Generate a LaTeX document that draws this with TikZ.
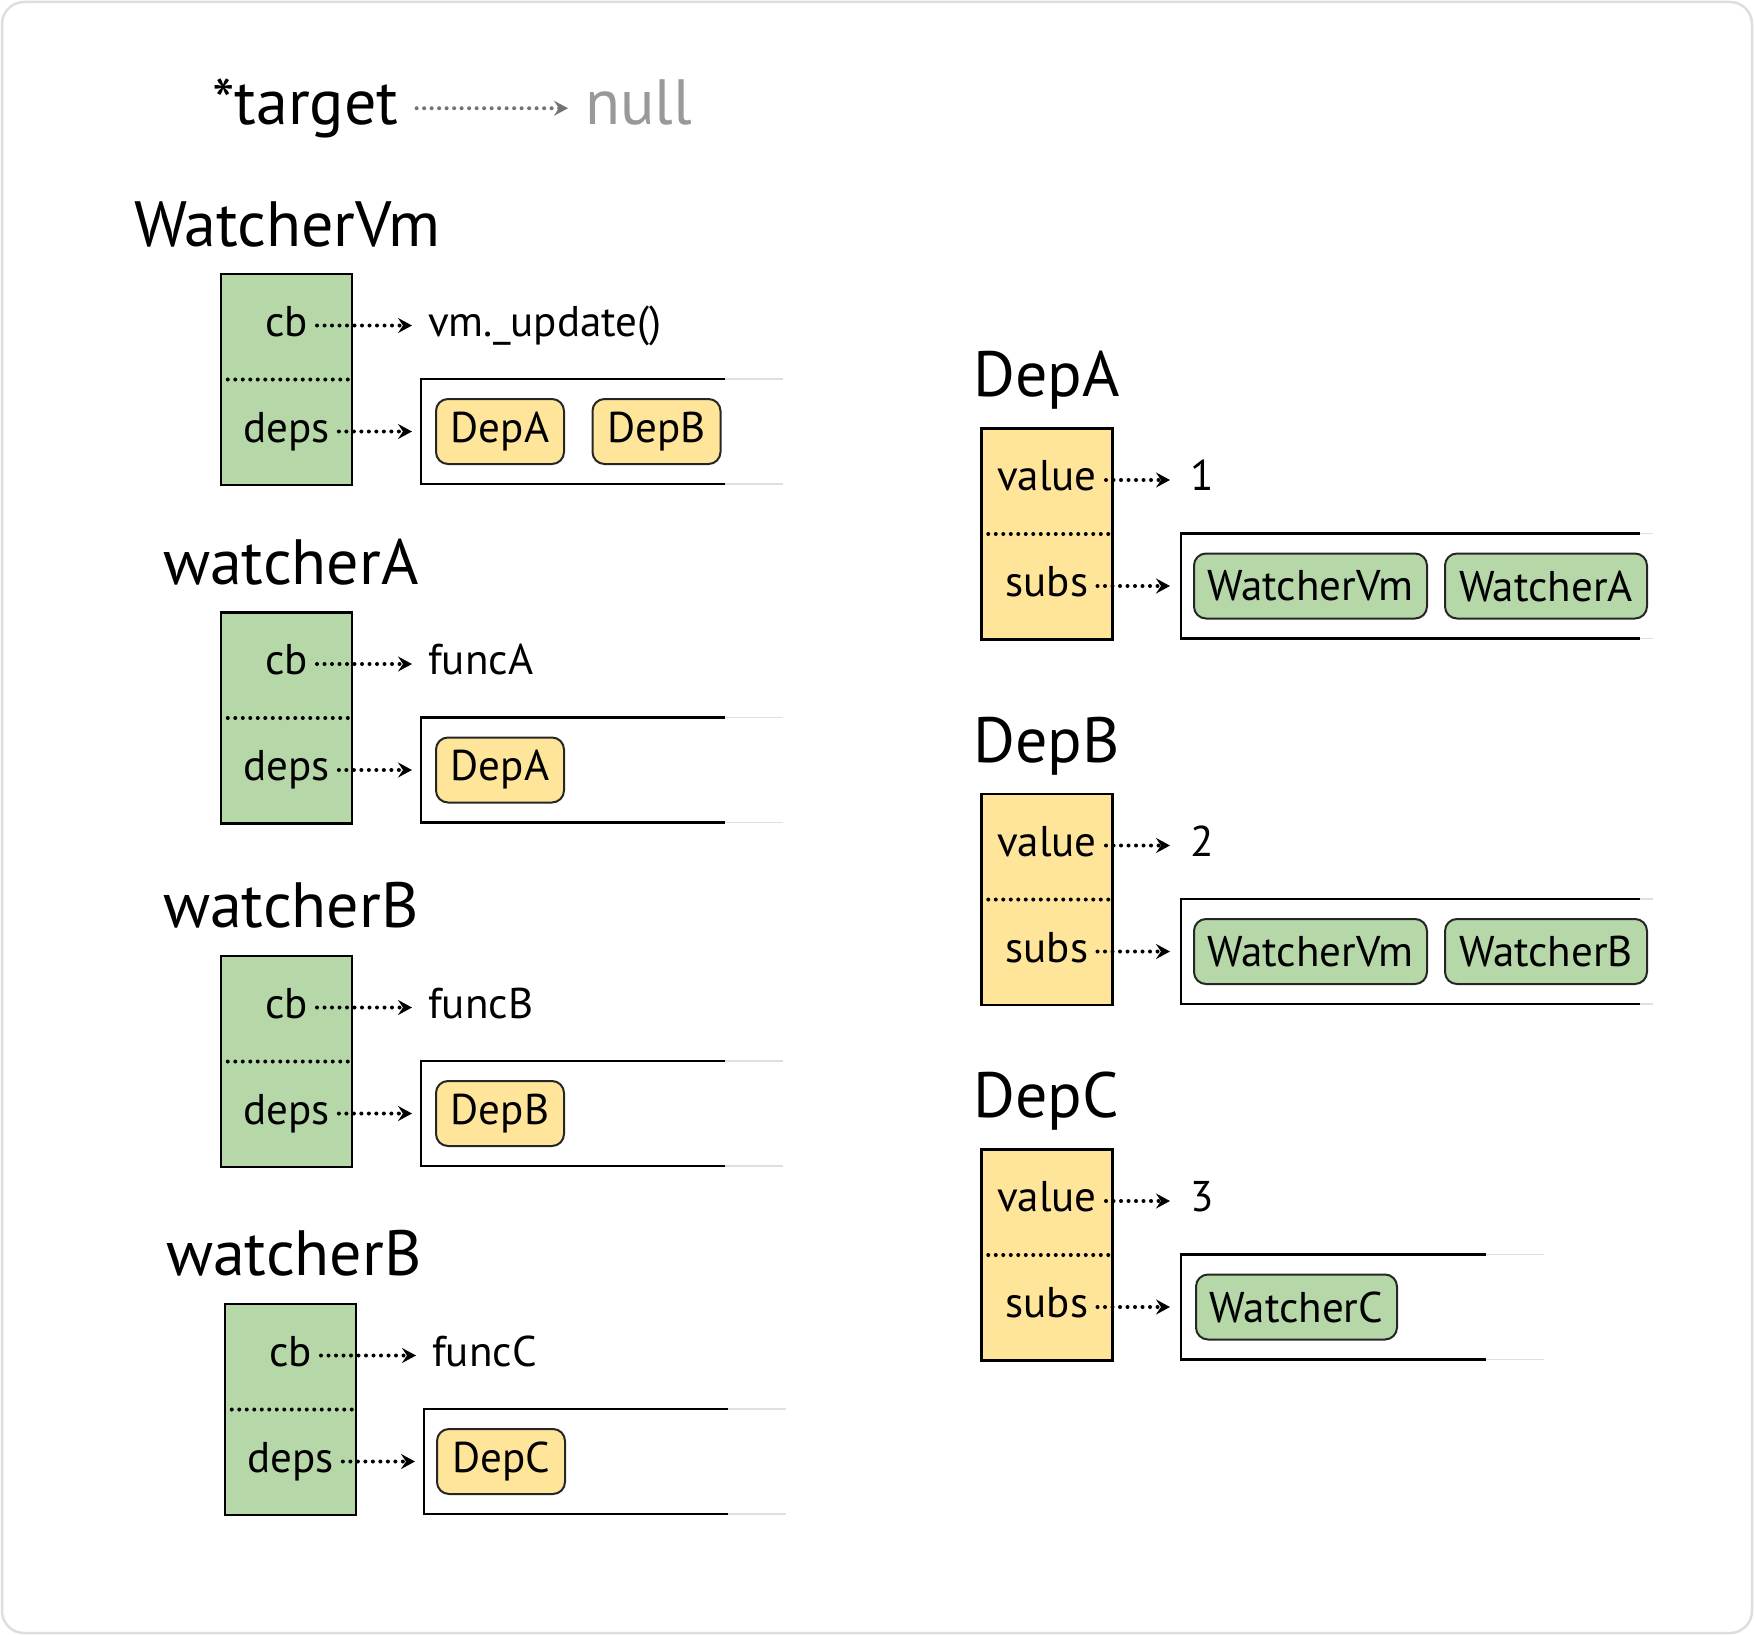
\documentclass[tikz,border=0pt]{standalone}
\usepackage{fontspec}
\setmainfont{PT Sans}
\usepackage{xcolor}
\usepackage{tikz}
\usetikzlibrary{arrows.meta,positioning}
\definecolor{wgreen}{HTML}{B6D7A8}
\definecolor{dyellow}{HTML}{FFE599}

\begin{document}
\begin{tikzpicture}[x=1pt, y=-1pt,
                every node/.append style = {inner sep=0pt},
                head/.style = {font=\fontsize{64}{64}\selectfont, anchor=base west},
                txt/.style = {font=\fontsize{43}{43}\selectfont},
                wbox/.style = {draw, line width=2.5pt, fill=wgreen, minimum width=131pt, minimum height=211pt},
                dbox/.style = {wbox, fill=dyellow},
                slot/.style = {minimum width=304pt, minimum height=105pt, anchor=west},
                pill/.style = {txt, draw=black!85, line width=2pt, rounded corners=12pt, minimum height=65pt},
                dots/.style = {line width=4pt, line cap=round, dash pattern=on 0pt off 7.5pt},
                link/.style = {dots, shorten <=9pt, -{Stealth[length=14pt,width=15pt,inset=5pt]}},
                rim/.style = {line width=2.5pt},
                fade/.style = {line width=1.5pt, black!12}]
                \fontsize{43}{43}\selectfont
                \useasboundingbox (0,0) rectangle (1754,1635);
                \draw[black!13, line width=2.5pt, rounded corners=22pt] (2,2) rectangle (1752,1633);
                % target
                \node[head] (tg) at (212,125) {*target};
                \node[head, text=black!40] (nl) at (585,125) {null};
                \draw[link, black!55, shorten <=18pt, shorten >=17pt] ([yshift=6pt]tg.mid east) -- ([yshift=6pt]nl.mid west);
                % WatcherVm
                \node[head] (tw1) at (134,246) {WatcherVm};
                \node[wbox] (w1) at (286.5,379.5) {};
                \draw[dots, shorten <=8pt] (w1.west) -- (w1.east);
                \node[txt, anchor=mid] (c1) at (286.5,325.5) {cb};
                \node[txt, anchor=mid] (d1) at (286.5,431.5) {deps};
                \node[txt, anchor=mid west] (f1) at (428,325.5) {vm.\_update()};
                \node[slot] (s1) at (421,431.5) {};
                \draw[rim] (s1.north east) -- (s1.north west) -- (s1.south west) -- (s1.south east);
                \draw[fade] (s1.north east) -- ++(58,0) (s1.south east) -- ++(58,0);
                \node[pill, fill=dyellow, minimum width=128pt] (p1a) at (500,431.5) {DepA};
                \node[pill, fill=dyellow, minimum width=128pt] (p1b) at (656.5,431.5) {DepB};
                \draw[link, shorten >=16pt] (c1.mid east) -- (f1.mid west);
                \draw[link, shorten >=9pt] (d1.mid east) -- (d1.mid east -| s1.west);
                % watcherA
                \node[head] (tw2) at (163,584) {watcherA};
                \node[wbox] (w2) at (286.5,718) {};
                \draw[dots, shorten <=8pt] (w2.west) -- (w2.east);
                \node[txt, anchor=mid] (c2) at (286.5,664) {cb};
                \node[txt, anchor=mid] (d2) at (286.5,770) {deps};
                \node[txt, anchor=mid west] (f2) at (428,664) {funcA};
                \node[slot] (s2) at (421,770) {};
                \draw[rim] (s2.north east) -- (s2.north west) -- (s2.south west) -- (s2.south east);
                \draw[fade] (s2.north east) -- ++(58,0) (s2.south east) -- ++(58,0);
                \node[pill, fill=dyellow, minimum width=128pt] (p2a) at (500,770) {DepA};
                \draw[link, shorten >=16pt] (c2.mid east) -- (f2.mid west);
                \draw[link, shorten >=9pt] (d2.mid east) -- (d2.mid east -| s2.west);
                % watcherB
                \node[head] (tw3) at (163,927) {watcherB};
                \node[wbox] (w3) at (286.5,1061.5) {};
                \draw[dots, shorten <=8pt] (w3.west) -- (w3.east);
                \node[txt, anchor=mid] (c3) at (286.5,1007.5) {cb};
                \node[txt, anchor=mid] (d3) at (286.5,1113.5) {deps};
                \node[txt, anchor=mid west] (f3) at (428,1007.5) {funcB};
                \node[slot] (s3) at (421,1113.5) {};
                \draw[rim] (s3.north east) -- (s3.north west) -- (s3.south west) -- (s3.south east);
                \draw[fade] (s3.north east) -- ++(58,0) (s3.south east) -- ++(58,0);
                \node[pill, fill=dyellow, minimum width=128pt] (p3b) at (500,1113.5) {DepB};
                \draw[link, shorten >=16pt] (c3.mid east) -- (f3.mid west);
                \draw[link, shorten >=9pt] (d3.mid east) -- (d3.mid east -| s3.west);
                % watcherB again, holds DepC
                \node[head] (tw4) at (166,1275) {watcherB};
                \node[wbox] (w4) at (290.5,1409.5) {};
                \draw[dots, shorten <=8pt] (w4.west) -- (w4.east);
                \node[txt, anchor=mid] (c4) at (290.5,1355.5) {cb};
                \node[txt, anchor=mid] (d4) at (290.5,1461.5) {deps};
                \node[txt, anchor=mid west] (f4) at (432,1355.5) {funcC};
                \node[slot] (s4) at (424,1461.5) {};
                \draw[rim] (s4.north east) -- (s4.north west) -- (s4.south west) -- (s4.south east);
                \draw[fade] (s4.north east) -- ++(58,0) (s4.south east) -- ++(58,0);
                \node[pill, fill=dyellow, minimum width=128pt] (p4c) at (501,1461.5) {DepC};
                \draw[link, shorten >=16pt] (c4.mid east) -- (f4.mid west);
                \draw[link, shorten >=9pt] (d4.mid east) -- (d4.mid east -| s4.west);
                % DepA
                \node[head] (tda) at (973,396) {DepA};
                \node[dbox] (da) at (1047,534) {};
                \draw[dots, shorten <=8pt] (da.west) -- (da.east);
                \node[txt, anchor=mid] (va) at (1047,480) {value};
                \node[txt, anchor=mid] (ua) at (1047,586) {subs};
                \node[txt, anchor=mid west] (na) at (1190,480) {1};
                \node[slot, minimum width=459pt] (sa) at (1181,586) {};
                \draw[rim] (sa.north east) -- (sa.north west) -- (sa.south west) -- (sa.south east);
                \draw[fade] (sa.north east) -- ++(13,0) (sa.south east) -- ++(13,0);
                \node[pill, fill=wgreen, minimum width=233pt] (qa1) at (1310.5,586) {WatcherVm};
                \node[pill, fill=wgreen, minimum width=202pt] (qa2) at (1546,586) {WatcherA};
                \draw[link, shorten >=20pt] (va.mid east) -- (na.mid west);
                \draw[link, shorten >=11pt] (ua.mid east) -- (ua.mid east -| sa.west);
                % DepB
                \node[head] (tdb) at (973,762) {DepB};
                \node[dbox] (db) at (1047,899.5) {};
                \draw[dots, shorten <=8pt] (db.west) -- (db.east);
                \node[txt, anchor=mid] (vb) at (1047,845.5) {value};
                \node[txt, anchor=mid] (ub) at (1047,951.5) {subs};
                \node[txt, anchor=mid west] (nb) at (1190,845.5) {2};
                \node[slot, minimum width=459pt] (sb) at (1181,951.5) {};
                \draw[rim] (sb.north east) -- (sb.north west) -- (sb.south west) -- (sb.south east);
                \draw[fade] (sb.north east) -- ++(13,0) (sb.south east) -- ++(13,0);
                \node[pill, fill=wgreen, minimum width=233pt] (qb1) at (1310.5,951.5) {WatcherVm};
                \node[pill, fill=wgreen, minimum width=202pt] (qb2) at (1546,951.5) {WatcherB};
                \draw[link, shorten >=20pt] (vb.mid east) -- (nb.mid west);
                \draw[link, shorten >=11pt] (ub.mid east) -- (ub.mid east -| sb.west);
                % DepC
                \node[head] (tdc) at (973,1117) {DepC};
                \node[dbox] (dc) at (1047,1255) {};
                \draw[dots, shorten <=8pt] (dc.west) -- (dc.east);
                \node[txt, anchor=mid] (vc) at (1047,1201) {value};
                \node[txt, anchor=mid] (uc) at (1047,1307) {subs};
                \node[txt, anchor=mid west] (nc) at (1190,1201) {3};
                \node[slot, minimum width=305pt] (sc) at (1181,1307) {};
                \draw[rim] (sc.north east) -- (sc.north west) -- (sc.south west) -- (sc.south east);
                \draw[fade] (sc.north east) -- ++(58,0) (sc.south east) -- ++(58,0);
                \node[pill, fill=wgreen, minimum width=201pt] (qc1) at (1296.5,1307) {WatcherC};
                \draw[link, shorten >=20pt] (vc.mid east) -- (nc.mid west);
                \draw[link, shorten >=11pt] (uc.mid east) -- (uc.mid east -| sc.west);
            \end{tikzpicture}
\end{document}
